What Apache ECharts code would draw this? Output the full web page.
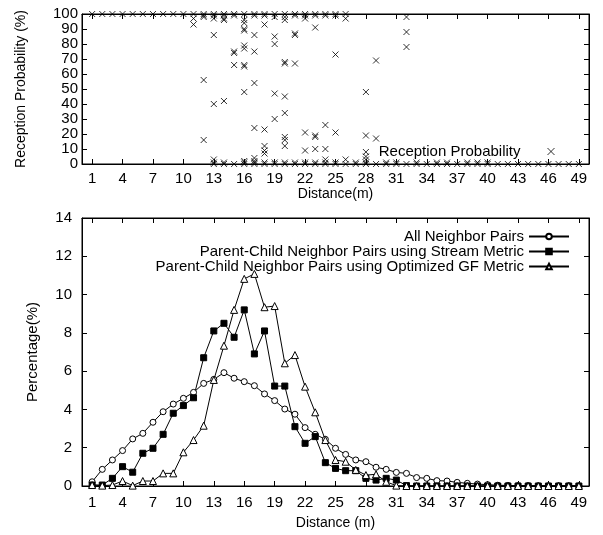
<!DOCTYPE html>
<html>
<head>
<meta charset="utf-8">
<script src="https://cdn.jsdelivr.net/npm/echarts@6/dist/echarts.min.js"></script>
<style>html,body{margin:0;padding:0;background:#fff}#c{width:603px;height:535px}</style>
</head>
<body>
<div id="c"></div>
<script>
// ---- data ----
const xTicks = [1,4,7,10,13,16,19,22,25,28,31,34,37,40,43,46,49];
const distances = [1,2,3,4,5,6,7,8,9,10,11,12,13,14,15,16,17,18,19,20,21,22,23,24,25,26,27,28,29,30,31,32,33,34,35,36,37,38,39,40,41,42,43,44,45,46,47,48,49];
const allPairs = [0.22,0.87,1.36,1.85,2.46,2.75,3.33,3.88,4.28,4.58,
  4.89,5.36,5.57,5.92,5.63,5.45,5.24,4.81,4.46,4.02,
  3.75,3.05,2.70,2.44,1.97,1.65,1.36,1.27,0.98,0.87,
  0.71,0.66,0.44,0.40,0.28,0.26,0.19,0.14,0.10,0.07,
  0.04,0.03,0.02,0.02,0.01,0.01,0.01,0.01,0.01];
const streamMetric = [0.05,0.05,0.40,1.01,0.72,1.71,1.97,2.70,3.80,4.20,
  4.61,6.70,8.10,8.50,7.77,9.20,6.90,8.10,5.22,5.22,
  3.10,2.23,2.58,1.22,0.92,0.80,0.80,0.40,0.31,0.40,
  0.31,0.02,0,0,0,0,0,0,0,0,
  0,0,0,0,0,0,0,0,0];
const gfMetric = [0.05,0.02,0.05,0.26,0.02,0.26,0.26,0.66,0.66,1.76,
  2.40,3.15,5.54,7.33,9.20,10.82,11.08,9.34,9.40,6.41,
  6.84,5.19,3.85,2.40,1.36,1.27,0.84,0.57,0.61,0.22,
  0.02,0,0,0,0,0,0,0,0,0,
  0,0,0,0,0,0,0,0,0];
const seriesNames = ['All Neighbor Pairs','Parent-Child Neighbor Pairs using Stream Metric','Parent-Child Neighbor Pairs using Optimized GF Metric'];
const receptionTopRow = [[1,100],[2,100],[3,100],[4,100],[5,100],[6,100],[7,100],[8,100],[9,100],[10,100],[11,100],[12,100],[13,100],[14,100],[15,100],[16,100],[17,100],[18,100],[19,100],[20,100],[21,100],[22,100],[23,100],[24,100],[25,100],[26,100]];
const receptionHigh = [[11,97],[11,93],[12,99],[12,98],[13,99],[13,97],[14,99],[14,97],[14,96],[15,99],[16,96],[16,94],[16,90],[16,89],[17,99],[18,99],[19,98],[20,98],[20,96],[21,99],[22,99],[22,97],[23,99],[23,91],[24,99],[25,99],[26,97],[32,98],[32,88],[32,78]];
const receptionMid = [[12,56],[12,16],[13,86],[13,40],[13,3],[14,42],[15,75],[15,74],[15,66],[16,79],[16,77],[16,66],[16,65],[16,48],[16,2],[17,86],[17,75],[17,54],[17,24],[17,4],[17,2],[18,93],[18,23],[18,12],[18,9],[18,7],[19,85],[19,80],[19,47],[19,30],[20,68],[20,67],[20,45],[20,34],[20,18],[20,16],[20,12],[20,1],[21,87],[21,86],[21,67],[22,21],[22,9],[22,1],[23,19],[23,18],[23,10],[24,26],[24,10],[24,3],[25,73],[25,21],[26,3],[28,48],[28,19],[28,8],[28,5],[28,3],[29,69],[29,17]];
const receptionZero = [[13,0],[14,0],[15,0],[16,0],[17,0],[18,0],[19,0],[20,0],[21,0],[22,0],[23,0],[24,0],[25,0],[26,0],[27,0],[28,0],[29,0],[30,0],[31,0],[32,0],[33,0],[34,0],[35,0],[36,0],[37,0],[38,0],[39,0],[40,0],[41,0],[42,0],[43,0],[44,0],[45,0],[46,0],[47,0],[48,0],[49,0],
  [13,1],[14,1],[16,1],[17,1],[18,1],[19,1],[21,1],[23,1],[24,1],[25,1],[27,1],[28,1],[30,1],[31,1],[33,1],[35,1],[36,1],[38,1],[39,1],[40,1]];

// ---- chart ----
const FONT = 'Liberation Sans, Arial, sans-serif';
const txt = {color:'#000', fontFamily:FONT, fontSize:14};
const tickTxt = {color:'#000', fontFamily:FONT, fontSize:15};
const cross = 'path://M0,0L10,10M10,0L0,10';
const chart = echarts.init(document.getElementById('c'), null, {renderer:'canvas'});

function xAx(grid, pos, show, labelMargin, name, nameGap){
  return {type:'value', gridIndex:grid, position:pos, min:0, max:50,
    name: show ? name : '', nameLocation:'middle', nameGap:nameGap, nameTextStyle:txt,
    axisLine:{show:true, onZero:false, lineStyle:{color:'#000', width:1}},
    axisTick:{show:true, inside:true, length:5, customValues:xTicks, lineStyle:{color:'#000'}},
    axisLabel:{show:show, margin:labelMargin, customValues:xTicks, ...tickTxt},
    splitLine:{show:false}};
}
function yAx(grid, pos, show, max, interval, labelMargin, name, nameGap, nameSize){
  return {type:'value', gridIndex:grid, position:pos, min:0, max:max, interval:interval,
    name: show ? name : '', nameLocation:'middle', nameGap:nameGap, nameTextStyle:{...txt, fontSize:nameSize},
    axisLine:{show:true, onZero:false, lineStyle:{color:'#000', width:1}},
    axisTick:{show:true, inside:true, length:5, lineStyle:{color:'#000'}},
    axisLabel:{show:show, margin:labelMargin, ...tickTxt},
    splitLine:{show:false}};
}

const lineSeries = (name, data, symbol, size, fill) => ({
  name, type:'line', xAxisIndex:2, yAxisIndex:2, clip:false,
  data: distances.map((d,i)=>[d, data[i]]),
  symbol, symbolSize:size, showSymbol:true,
  lineStyle:{color:'#000', width:1},
  itemStyle:{color:fill, borderColor:'#000', borderWidth:1},
  emphasis:{disabled:true}, animation:false
});

const scatterStyle = {color:'transparent', borderColor:'#000', borderWidth:1};
const option = {
  backgroundColor:'#fff',
  animation:false,
  grid:[
    {left:82, top:14, width:507, height:150, show:true, borderColor:'#000', borderWidth:1, containLabel:false},
    {left:82, top:218, width:507, height:268, show:true, borderColor:'#000', borderWidth:1, containLabel:false}
  ],
  xAxis:[
    xAx(0,'bottom',true,7,'Distance(m)',20),
    xAx(0,'top',false,7,'',0),
    xAx(1,'bottom',true,9,'Distance (m)',30),
    xAx(1,'top',false,9,'',0)
  ],
  yAxis:[
    yAx(0,'left',true,100,10,4,'Reception Probability (%)',54,14),
    yAx(0,'right',false,100,10,4,'',0,14),
    yAx(1,'left',true,14,2,10,'Percentage(%)',42,15),
    yAx(1,'right',false,14,2,10,'',0,15)
  ],
  legend:[
    {data:['Reception Probability'], orient:'vertical', align:'right', right:43, top:139,
     itemWidth:7, itemHeight:7, itemGap:0, icon:cross,
     itemStyle:{color:'transparent', borderColor:'#000', borderWidth:1},
     textStyle:{...tickTxt, lineHeight:15, padding:[0,22,0,0]}, selectedMode:false},
    {data:seriesNames, orient:'vertical', align:'right', right:28, top:224,
     itemWidth:40, itemHeight:7, itemGap:0,
     textStyle:{...tickTxt, lineHeight:15}, selectedMode:false}
  ],
  series:[
    {name:'Reception Probability', type:'scatter', xAxisIndex:0, yAxisIndex:0, clip:false,
     data: receptionTopRow.concat(receptionHigh, receptionMid, receptionZero),
     symbol:cross, symbolSize:6, itemStyle:scatterStyle, emphasis:{disabled:true}},
    lineSeries(seriesNames[0], allPairs, 'circle', 6, '#fff'),
    lineSeries(seriesNames[1], streamMetric, 'rect', 6, '#000'),
    lineSeries(seriesNames[2], gfMetric, 'triangle', 7, '#fff')
  ]
};
chart.setOption(option);
</script>
</body>
</html>
